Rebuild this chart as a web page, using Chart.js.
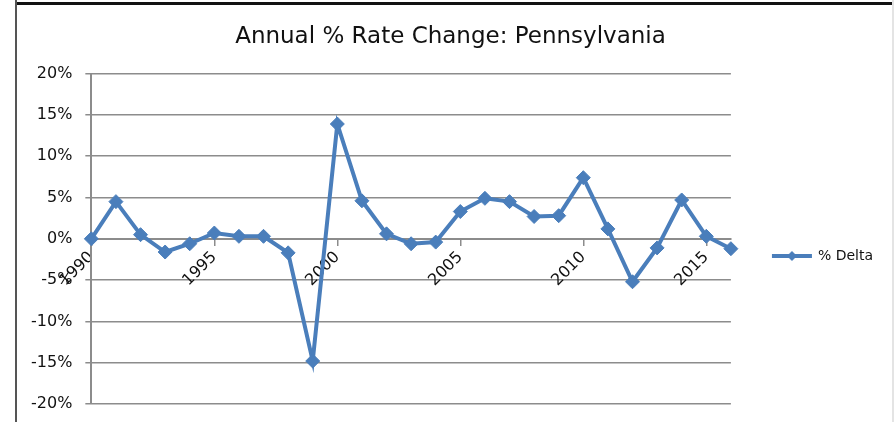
<!DOCTYPE html>
<html>
<head>
<meta charset="utf-8">
<script src="https://cdn.jsdelivr.net/npm/chart.js@4/dist/chart.umd.min.js"></script>
<style>
  html, body { margin: 0; padding: 0; background: #fff; }
  #wrap { position: relative; width: 894px; height: 422px; }
  #frameTop { position: absolute; left: 15px; top: 2px; width: 879px; height: 3px; background: #111; }
  #frameLeft { position: absolute; left: 15px; top: 0; width: 2px; height: 422px; background: #555; }
  #frameRight { position: absolute; left: 892px; top: 0; width: 2px; height: 422px; background: #e4e4e4; }
  canvas { position: absolute; left: 0; top: 0; }
</style>
</head>
<body>
<div id="wrap">
  <canvas id="rateChart" width="894" height="422"></canvas>
  <div id="frameTop"></div>
  <div id="frameLeft"></div>
  <div id="frameRight"></div>
</div>
<script>
// years on the x axis
const years = ['1990', '1991', '1992', '1993', '1994', '1995', '1996', '1997', '1998', '1999',
    '2000', '2001', '2002', '2003', '2004', '2005', '2006', '2007', '2008', '2009',
    '2010', '2011', '2012', '2013', '2014', '2015', '2016'];

// annual % rate change
const pctDelta = [0, 4.5, 0.5, -1.6, -0.6, 0.7, 0.3, 0.3, -1.7, -14.8,
    13.9, 4.6, 0.6, -0.6, -0.4, 3.3, 4.9, 4.5, 2.7, 2.8,
    7.4, 1.2, -5.2, -1.1, 4.7, 0.3, -1.2];

const shownYears = ['1990', '1995', '2000', '2005', '2010', '2015'];

const blue = '#4A7EBB';
const gridGray = '#8c8c8c';
const fontName = "'DejaVu Sans', sans-serif";

// legend swatch: line with a diamond in the middle
const swatch = document.createElement('canvas');
swatch.width = 42;
swatch.height = 14;
const sctx = swatch.getContext('2d');
sctx.strokeStyle = blue;
sctx.lineWidth = 4;
sctx.beginPath();
sctx.moveTo(1, 7);
sctx.lineTo(41, 7);
sctx.stroke();
sctx.fillStyle = blue;
sctx.beginPath();
sctx.moveTo(21, 2);
sctx.lineTo(26, 7);
sctx.lineTo(21, 12);
sctx.lineTo(16, 7);
sctx.closePath();
sctx.fill();

const ctx = document.getElementById('rateChart').getContext('2d');

const rateChart = new Chart(ctx, {
    type: 'line',
    data: {
        labels: years,
        datasets: [{
            label: '% Delta',
            data: pctDelta,
            borderColor: blue,
            backgroundColor: blue,
            borderWidth: 4,
            tension: 0,
            pointStyle: 'rectRot',
            pointRadius: 7,
            pointHoverRadius: 7,
            pointBackgroundColor: blue,
            pointBorderColor: blue,
            pointBorderWidth: 1,
        }],
    },
    options: {
        responsive: false,
        animation: false,
        layout: { padding: { left: 18, right: 11, top: 0, bottom: 18 } },
        plugins: {
            title: {
                display: true,
                text: 'Annual % Rate Change: Pennsylvania',
                color: '#111',
                font: { family: fontName, size: 23, weight: 'normal' },
                padding: { top: 23, bottom: 23 },
            },
            legend: {
                position: 'right',
                fullSize: false,
                title: {
                    display: true,
                    text: ' ',
                    font: { size: 12 },
                    padding: { top: 20, bottom: 0 },
                },
                labels: {
                    usePointStyle: true,
                    pointStyle: swatch,
                    pointStyleWidth: 38,
                    color: '#111',
                    font: { family: fontName, size: 14 },
                    padding: 42,
                },
            },
            tooltip: { enabled: false },
        },
        scales: {
            x: {
                type: 'category',
                position: { y: 0 },
                // let the first rotated year hang over the y labels, as in the original
                afterFit: (scale) => { scale.paddingLeft = 0; scale.paddingRight = 0; },
                grid: {
                    display: true,
                    drawOnChartArea: false,
                    drawTicks: true,
                    tickLength: 6,
                    color: gridGray,
                    lineWidth: 1.5,
                },
                border: { display: true, color: gridGray, width: 2 },
                ticks: {
                    autoSkip: false,
                    minRotation: 45,
                    maxRotation: 45,
                    color: '#111',
                    font: { family: fontName, size: 16 },
                    callback: function (value) {
                        const label = this.getLabelForValue(value);
                        return shownYears.includes(label) ? label : null;
                    },
                },
            },
            y: {
                min: -20,
                max: 20,
                afterFit: (scale) => { scale.paddingTop = 0; scale.paddingBottom = 0; },
                grid: {
                    color: gridGray,
                    lineWidth: 1.5,
                    tickLength: 6,
                },
                border: { display: true, color: gridGray, width: 2 },
                ticks: {
                    stepSize: 5,
                    color: '#111',
                    padding: 13,
                    font: { family: fontName, size: 16 },
                    callback: (v) => v + '%',
                },
            },
        },
    },
});
</script>
</body>
</html>
